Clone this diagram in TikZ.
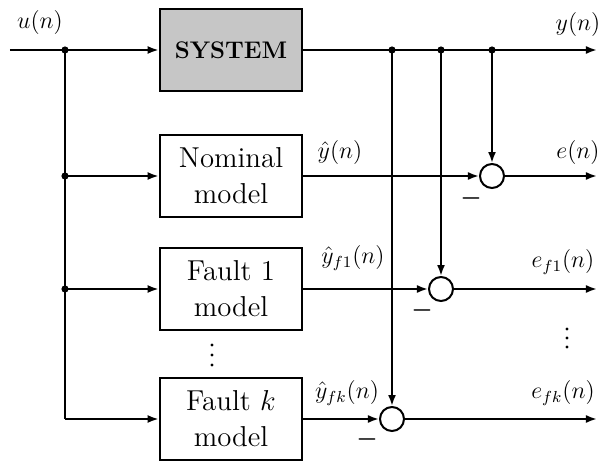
\documentclass[tikz,border=0pt]{standalone}
\usepackage{amsmath}
\usetikzlibrary{arrows.meta, positioning, calc}

\begin{document}
\begin{tikzpicture}[x=0.5pt, y=-0.5pt,
  model/.style={draw, line width=1.4pt, minimum width=71pt, minimum height=41pt,
    inner sep=0pt, align=center, font=\Large},
  sumnode/.style={draw, circle, line width=1pt, minimum size=12pt, inner sep=0pt},
  sig/.style={line width=1pt, -{Latex[length=5.5pt,width=4pt]}},
  wire/.style={line width=1pt},
  junct/.style={circle, fill, inner sep=0pt, minimum size=3.6pt},
  ell/.style={circle, fill, inner sep=0pt, minimum size=1.6pt},
  lbl/.style={font=\large, inner sep=0pt}]
  \useasboundingbox[fill=white] (0,0) rectangle (602,461);
  % plant and models
  \node[model, fill=gray!45, font=\large\bfseries] (sys) at (231,50) {SYSTEM};
  \node[model] (nom) at (231,176) {Nominal\\model};
  \node[model] (f1)  at (231,289) {Fault 1\\model};
  \node[model] (fk)  at (231,419) {Fault $k$\\model};
  % input bus
  \coordinate (uin) at (10,50);
  \coordinate (b0) at (65,50);
  \coordinate (b1) at (65,176);
  \coordinate (b2) at (65,289);
  \coordinate (b3) at (65,419);
  \node[lbl] (ulbl) at (40,22) {$u(n)$};
  \draw[wire] (uin) -- (b0) -- (b3);
  \draw[sig] (b0) -- (sys);
  \draw[sig] (b1) -- (nom);
  \draw[sig] (b2) -- (f1);
  \draw[sig] (b3) -- (fk);
  \foreach \p in {b0,b1,b2} {
    \node[junct] at (\p) {};
  }
  % output bus
  \coordinate (yout) at (597,50);
  \coordinate (t1) at (392,50);
  \coordinate (t2) at (441,50);
  \coordinate (t3) at (492,50);
  \node[lbl] (ylbl) at (578,24) {$y(n)$};
  \draw[sig] (sys) -- (yout);
  \foreach \p in {t1,t2,t3} {
    \node[junct] at (\p) {};
  }
  % residual generators
  \node[sumnode] (se) at (492,176) {};
  \node[sumnode] (s1) at (441,289) {};
  \node[sumnode] (sk) at (392,419) {};
  \coordinate (eo) at (597,176);
  \coordinate (e1o) at (597,289);
  \coordinate (eko) at (597,419);
  \draw[sig] (t3) -- (se);
  \draw[sig] (t2) -- (s1);
  \draw[sig] (t1) -- (sk);
  \draw[sig] (nom) -- (se);
  \draw[sig] (f1) -- (s1);
  \draw[sig] (fk) -- (sk);
  \draw[sig] (se) -- (eo);
  \draw[sig] (s1) -- (e1o);
  \draw[sig] (sk) -- (eko);
  % signal labels
  \node[lbl] (yhat)  at (340,152) {$\hat{y}(n)$};
  \node[lbl] (yhat1) at (353,258) {$\hat{y}_{f1}(n)$};
  \node[lbl] (yhatk) at (347,393) {$\hat{y}_{fk}(n)$};
  \node[lbl] (elbl)  at (578,152) {$e(n)$};
  \node[lbl] (e1lbl) at (563,262) {$e_{f1}(n)$};
  \node[lbl] (eklbl) at (563,393) {$e_{fk}(n)$};
  % minus signs
  \node[lbl] (m0) at (471,198) {$\boldsymbol{-}$};
  \node[lbl] (m1) at (422,310) {$\boldsymbol{-}$};
  \node[lbl] (mk) at (367,439) {$\boldsymbol{-}$};
  % continuation dots
  \foreach \y in {345,355,365} {
    \node[ell] at (212,\y) {};
  }
  \foreach \y in {329,338,347} {
    \node[ell] at (567,\y) {};
  }
\end{tikzpicture}
\end{document}
